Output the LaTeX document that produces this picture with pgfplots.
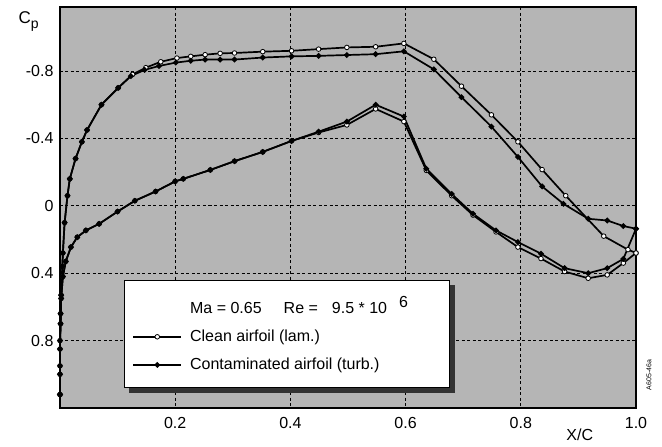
\documentclass[border=0pt]{standalone}
\usepackage{pgfplots}
\pgfplotsset{compat=1.18}
\usepackage{pgfplotstable}
\usepackage{fontspec}
\setmainfont{Liberation Sans}

\pgfplotstableread{
x y
0.000 1.12
0.000 0.95
0.000 0.80
0.001 0.64
0.002 0.53
0.004 0.36
0.005 0.28
0.008 0.10
0.013 -0.06
0.017 -0.16
0.027 -0.28
0.038 -0.38
0.047 -0.45
0.072 -0.60
0.101 -0.70
0.126 -0.78
0.149 -0.82
0.175 -0.855
0.203 -0.877
0.227 -0.887
0.252 -0.897
0.278 -0.905
0.303 -0.907
0.352 -0.915
0.402 -0.920
0.449 -0.930
0.498 -0.940
0.548 -0.944
0.597 -0.964
0.649 -0.870
0.697 -0.710
0.749 -0.540
0.795 -0.380
0.837 -0.215
0.878 -0.060
0.944 0.180
0.986 0.260
1.000 0.280
}\cleanupper

\pgfplotstableread{
x y
0.000 1.12
0.000 1.00
0.000 0.85
0.001 0.70
0.002 0.55
0.005 0.42
0.010 0.33
0.019 0.245
0.030 0.186
0.045 0.146
0.068 0.107
0.100 0.034
0.130 -0.030
0.166 -0.085
0.200 -0.145
0.214 -0.160
0.261 -0.213
0.303 -0.265
0.352 -0.320
0.402 -0.385
0.449 -0.435
0.498 -0.480
0.548 -0.575
0.597 -0.500
0.636 -0.210
0.680 -0.060
0.717 0.055
0.757 0.155
0.795 0.245
0.835 0.313
0.876 0.390
0.917 0.430
0.950 0.410
0.978 0.340
1.000 0.280
}\cleanlower

\pgfplotstableread{
x y
0.000 1.12
0.000 0.95
0.000 0.80
0.001 0.64
0.002 0.53
0.004 0.36
0.005 0.28
0.008 0.10
0.013 -0.06
0.017 -0.16
0.027 -0.28
0.038 -0.38
0.047 -0.45
0.072 -0.60
0.101 -0.70
0.123 -0.770
0.147 -0.807
0.172 -0.830
0.201 -0.850
0.227 -0.861
0.252 -0.868
0.278 -0.868
0.303 -0.868
0.352 -0.880
0.402 -0.887
0.449 -0.890
0.498 -0.895
0.548 -0.900
0.597 -0.917
0.649 -0.810
0.697 -0.645
0.749 -0.470
0.795 -0.290
0.837 -0.115
0.874 -0.012
0.917 0.077
0.950 0.087
0.978 0.120
1.000 0.136
}\contupper

\pgfplotstableread{
x y
0.000 1.12
0.000 1.00
0.000 0.85
0.001 0.70
0.002 0.55
0.005 0.42
0.010 0.33
0.019 0.245
0.030 0.186
0.045 0.146
0.068 0.107
0.100 0.034
0.130 -0.030
0.166 -0.085
0.200 -0.145
0.214 -0.160
0.261 -0.213
0.303 -0.265
0.352 -0.320
0.402 -0.385
0.449 -0.440
0.498 -0.500
0.548 -0.600
0.597 -0.530
0.636 -0.220
0.680 -0.070
0.717 0.047
0.757 0.146
0.795 0.215
0.835 0.284
0.876 0.370
0.917 0.400
0.950 0.370
0.978 0.315
1.000 0.136
}\contlower

\begin{document}
\begin{tikzpicture}
\begin{axis}[
  scale only axis, width=576pt, height=401pt,
  xmin=0, xmax=1.0, ymin=-1.18, ymax=1.2, y dir=reverse,
  axis background/.style={fill=gray!58},
  axis line style={line width=1.2pt},
  xtick={0.2,0.4,0.6,0.8,1.0}, xticklabels={0.2,0.4,0.6,0.8,1.0},
  ytick={-0.8,-0.4,0,0.4,0.8}, yticklabels={-0.8,-0.4,0,0.4,0.8},
  grid=major,
  grid style={black, line width=0.9pt, dash pattern=on 3pt off 2.5pt},
  major tick length=0pt,
  tick label style={font=\fontsize{16}{18}\selectfont},
  xticklabel style={yshift=-6pt},
  yticklabel style={xshift=-3pt},
  clip=false,
  legend style={name=leg, at={(axis description cs:0.111,0.319)}, anchor=north west,
    draw=black, line width=1pt, fill=white,
    font=\fontsize{16}{19}\selectfont,
    inner xsep=8pt, inner ysep=14pt, row sep=11pt, column sep=6pt},
  legend cell align=left,
  legend image code/.code={\draw[mark repeat=2, mark phase=2] plot coordinates {(0pt,0pt) (24pt,0pt) (48pt,0pt)};},
]
\addlegendimage{empty legend}
\addlegendentry{\makebox[249pt][l]{Ma = 0.65\hspace{22pt}Re =\hspace{14pt}9.5 * 10\hspace{12pt}\raisebox{6pt}{6}}}

\addplot[black, line width=1.7pt, mark=*, mark size=2.3pt,
  mark options={fill=white, draw=black, line width=0.8pt}] table {\cleanupper};
\addlegendentry{Clean airfoil (lam.)}
\addplot[black, line width=1.7pt, mark=*, mark size=2.3pt,
  mark options={fill=white, draw=black, line width=0.8pt}, forget plot] table {\cleanlower};

\addplot[black, line width=1.7pt, mark=*, mark size=1.9pt,
  mark options={fill=black, draw=black}] table {\contupper};
\addlegendentry{Contaminated airfoil (turb.)}
\addplot[black, line width=1.7pt, mark=*, mark size=1.9pt,
  mark options={fill=black, draw=black}, forget plot] table {\contlower};

\node[anchor=base west, font=\fontsize{17}{18}\selectfont] at (axis description cs:-0.078,0.96) {C\raisebox{-5pt}{\fontsize{14}{14}\selectfont p}};
\node[anchor=base west, font=\fontsize{16}{18}\selectfont] at (axis description cs:0.873,-0.08) {X/C};
\node[rotate=90, font=\fontsize{7}{8}\selectfont] at (axis description cs:1.0226,0.082) {A605-46a};

\coordinate (SW) at (axis description cs:0,0);
\coordinate (NE) at (axis description cs:1,1);
\end{axis}
\fill[black!80] ([shift={(0.5pt,-5pt)}]leg.north east) rectangle ([shift={(5pt,-5pt)}]leg.south east);
\fill[black!80] ([shift={(5pt,-0.5pt)}]leg.south west) rectangle ([shift={(5pt,-5pt)}]leg.south east);
\pgfresetboundingbox
\path ([shift={(-60pt,-39pt)}]SW) rectangle ([shift={(26pt,7pt)}]NE);
\end{tikzpicture}
\end{document}
